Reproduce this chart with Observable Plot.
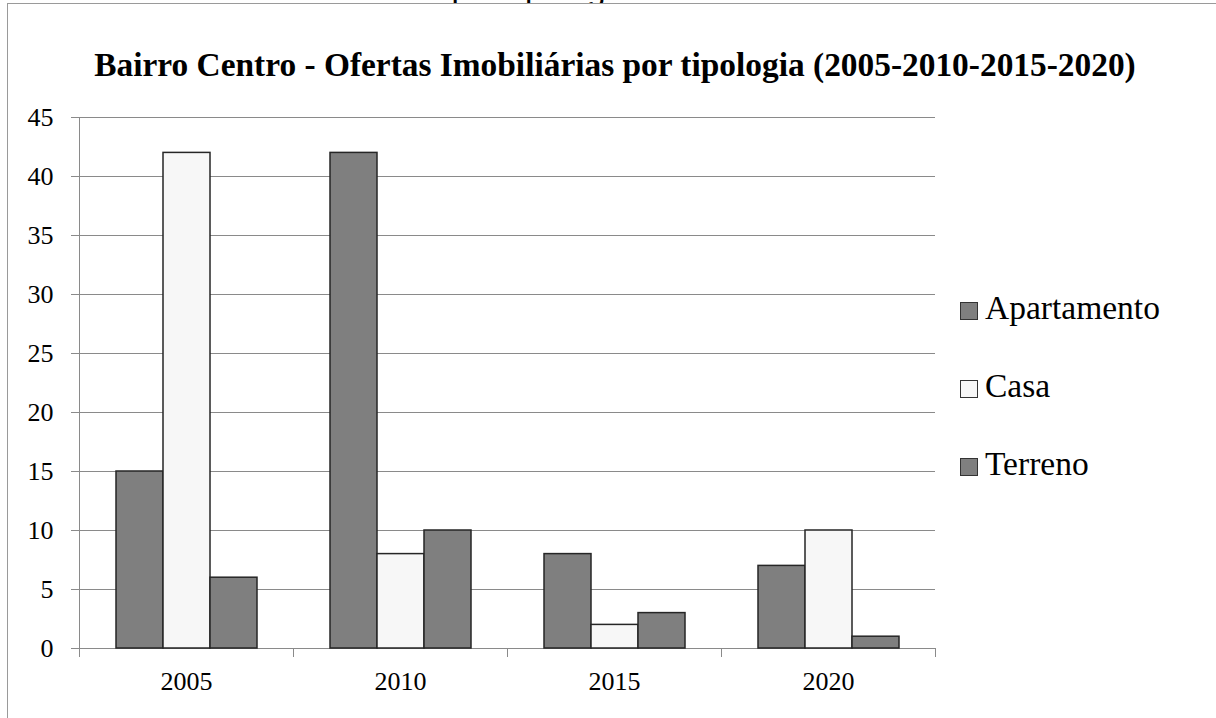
<!DOCTYPE html>
<html><head><meta charset="utf-8">
<script src="https://cdn.jsdelivr.net/npm/d3@7"></script>
<script src="https://cdn.jsdelivr.net/npm/@observablehq/plot@0.6"></script>
<style>
body{margin:0;background:#fff;}
#wrap{position:relative;width:1216px;height:718px;overflow:hidden;font-family:"Liberation Serif","Tinos","Times New Roman","DejaVu Serif","Noto Serif",serif;color:#000;}
#page{position:absolute;left:7px;top:3px;width:1300px;height:800px;border-left:1.5px solid #9a9a9a;border-top:1.5px solid #9a9a9a;box-sizing:border-box;}
#cut{position:absolute;left:0;top:0;height:3px;width:1216px;overflow:hidden;font-family:"Liberation Sans",Arial,sans-serif;font-size:33px;line-height:33px;}
#cut span{position:absolute;top:-28px;white-space:nowrap;}
#title{position:absolute;top:45px;left:0;width:1230px;text-align:center;font-weight:bold;font-size:33.4px;line-height:40px;white-space:nowrap;}
#chart{position:absolute;left:0;top:0;}
#legend{position:absolute;left:960px;top:0;}
.item{position:absolute;left:0;display:flex;align-items:center;font-size:33.5px;line-height:33px;white-space:nowrap;}
.sw{width:18px;height:18px;box-sizing:border-box;border:1px solid #333;margin-top:6px;margin-right:7px;}
</style></head>
<body>
<div id="wrap">
  <div id="cut"><span id="cuttext" style="left:160px">Ofertas imobiliárias por tipologia</span></div>
  <div id="page"></div>
  <div id="chart"></div>
  <div id="title">Bairro Centro - Ofertas Imobiliárias por tipologia (2005-2010-2015-2020)</div>
  <div id="legend"></div>
</div>
<script>
const years = ["2005", "2010", "2015", "2020"];
const types = ["Apartamento", "Casa", "Terreno"];
const apartamento = [15, 42, 8, 7];
const casa = [42, 8, 2, 10];
const terreno = [6, 10, 3, 1];
const yTicks = [0, 5, 10, 15, 20, 25, 30, 35, 40, 45];
const fills = ["#7f7f7f", "#f7f7f7", "#7f7f7f"];

const series = {Apartamento: apartamento, Casa: casa, Terreno: terreno};
const rows = years.flatMap((yr, i) => types.map(t => ({year: yr, type: t, value: series[t][i]})));

const W = 1216, H = 718, mL = 79, mR = 281, mT = 117, mB = 70;
const innerH = H - mT - mB;
const gridColor = "#8a8a8a";
const serifStack = '"Liberation Serif","Tinos","Times New Roman","DejaVu Serif","Noto Serif",serif';

const chart = Plot.plot({
  width: W, height: H,
  marginLeft: mL, marginRight: mR, marginTop: mT, marginBottom: mB,
  style: {fontFamily: serifStack, fontSize: "26px", color: "#000", background: "transparent", overflow: "visible"},
  fx: {domain: years, padding: 0, label: null},
  x: {domain: types, paddingInner: 0, paddingOuter: 0.76, axis: null},
  y: {domain: [0, 45], label: null},
  color: {domain: types, range: fills},
  marks: [
    Plot.gridY(yTicks, {stroke: gridColor, strokeOpacity: 1, strokeWidth: 1}),
    Plot.frame({anchor: "left", facetAnchor: "left", stroke: gridColor, insetBottom: -8}),
    Plot.frame({anchor: "left", stroke: gridColor, insetTop: innerH, insetBottom: -8}),
    Plot.frame({anchor: "right", facetAnchor: "right", stroke: gridColor, insetTop: innerH, insetBottom: -8}),
    Plot.barY(rows, {fx: "year", x: "type", y: "value", fill: "type", stroke: "#262626", strokeWidth: 1.5}),
    Plot.axisY(yTicks, {tickSize: 8, tickPadding: 18, fontSize: 26, stroke: gridColor, fill: "#000", label: null}),
    Plot.axisFx({anchor: "bottom", tickSize: 0, tickPadding: 23, fontSize: 26, fill: "#000", label: null})
  ]
});
document.getElementById("chart").appendChild(chart);

const legendTops = [291, 369, 447];
const legend = document.getElementById("legend");
types.forEach((t, i) => {
  const item = document.createElement("div");
  item.className = "item";
  item.style.top = legendTops[i] + "px";
  const sw = document.createElement("div");
  sw.className = "sw";
  sw.style.background = fills[i];
  const lab = document.createElement("span");
  lab.textContent = t;
  item.appendChild(sw);
  item.appendChild(lab);
  legend.appendChild(item);
});
</script>
</body></html>
